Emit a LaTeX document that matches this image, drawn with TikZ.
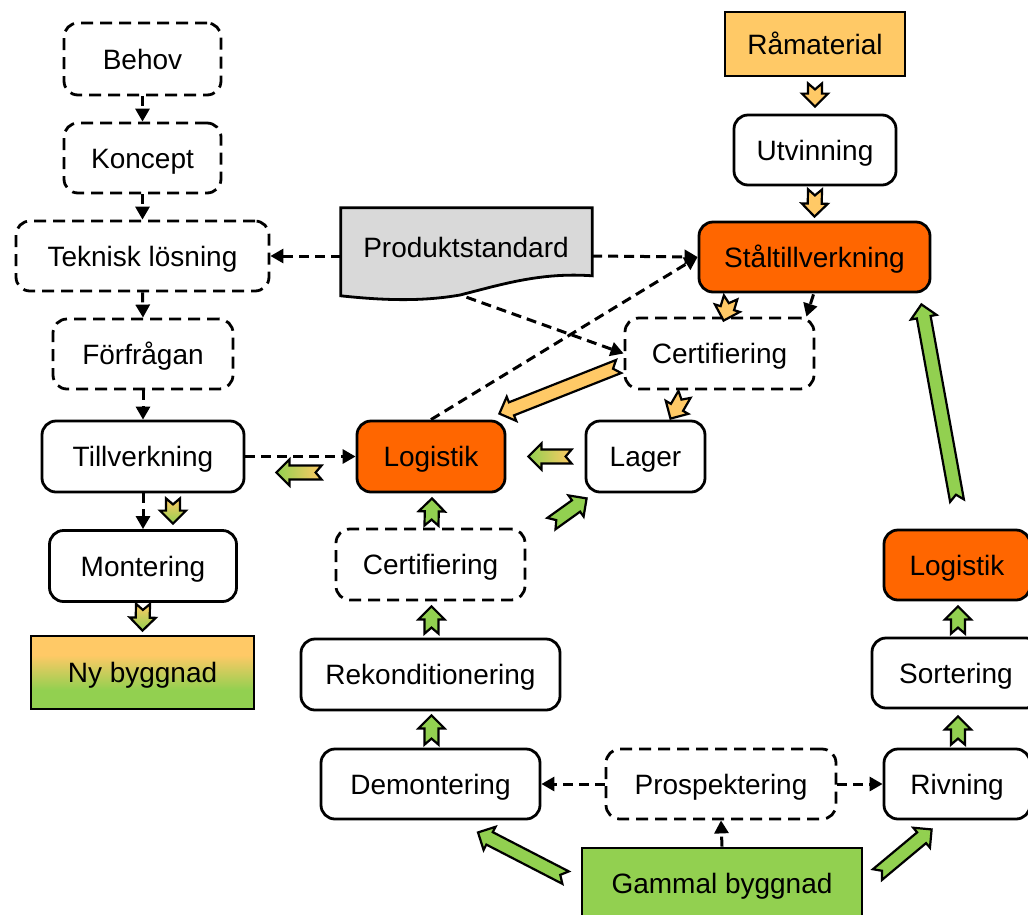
\documentclass[tikz,border=0pt]{standalone}
\usepackage{fontspec}
\setmainfont{Liberation Sans}
\usetikzlibrary{calc,arrows.meta}
\definecolor{orng}{HTML}{FF6600}
\definecolor{lorng}{HTML}{FFC966}
\definecolor{grn}{HTML}{92D050}
\definecolor{gry}{HTML}{D9D9D9}
\pgfdeclareverticalshading{nyshade}{100bp}{color(0bp)=(grn); color(38bp)=(grn); color(62bp)=(lorng); color(100bp)=(lorng)}
\tikzset{
  box/.style={draw=black, line width=2.8pt, rounded corners=14pt, fill=white,
    font=\fontsize{28}{33}\selectfont, text height=20pt, text depth=0pt, inner sep=0pt},
  dbox/.style={box, dash pattern=on 12pt off 7pt},
  sbox/.style={box, rounded corners=0pt},
  sz/.style 2 args={minimum width=#1pt, minimum height=#2pt},
  conn/.style={line width=3pt, dash pattern=on 10pt off 6pt, -{Triangle[length=13pt,width=14pt]}},
  fat/.style={draw=black, line width=2.2pt, line join=miter, fill=lorng},
  fatg/.style={fat, fill=grn},
  fath/.style={draw=black, line width=2.2pt, line join=miter, left color=grn, right color=lorng},
  fatv/.style={draw=black, line width=2.2pt, line join=miter, top color=lorng, bottom color=grn},
}
\newcommand\fatarrow[3][]{%
  \coordinate (faS) at (#2);
  \coordinate (faE) at (#3);
  \coordinate (faH) at ($(faE)!13pt!(faS)$);
  \coordinate (faN) at ($(faS)!6pt!(faE)$);
  \draw[fat,#1] ($(faS)!7pt!90:(faE)$) -- (faN) -- ($(faS)!7pt!-90:(faE)$)
     -- ($(faH)!7pt!-90:(faE)$) -- ($(faH)!13pt!-90:(faE)$) -- (faE)
     -- ($(faH)!13pt!90:(faE)$) -- ($(faH)!7pt!90:(faE)$) -- cycle;
}
\begin{document}
\begin{tikzpicture}[x=1pt,y=-1pt]
\useasboundingbox (0,0) rectangle (1028,914);
% left column
\node[dbox, sz={157}{72}] (behov) at (142.5,59) {Behov};
\node[dbox, sz={157}{70}] (koncept) at (142.5,158) {Koncept};
\node[dbox, sz={253}{70}] (teknisk) at (142.5,256) {Teknisk lösning};
\node[dbox, sz={180}{70}] (forf) at (143,354) {Förfrågan};
\node[box, sz={202}{71}] (tillv) at (143,456.5) {Tillverkning};
\node[box, sz={187}{71}] (mont) at (143,566) {Montering};
\node[sbox, sz={223}{73}, shading=nyshade] (ny) at (142.5,672.5) {Ny byggnad};
% document
\node[sz={251}{96}, inner sep=0pt] (prod) at (466.5,256) {};
\draw[line width=2.8pt, fill=gry, line join=miter] (prod.north west) -- (prod.north east)
  -- ($(prod.north east)+(0,68)$) .. controls (540,272) and (500,285) .. (460,295)
  .. controls (420,302) and (380,300) .. ($(prod.north west)+(0,88)$) -- cycle;
\node[font=\fontsize{28}{33}\selectfont, text height=20pt, text depth=0pt, inner sep=0pt] (prodtxt) at (466,247) {Produktstandard};
\coordinate (prodbot) at ($(prod.south)+(0,-7)$);
% middle
\node[box, sz={148}{71}, fill=orng] (log1) at (431,456.5) {Logistik};
\node[box, sz={119}{71}] (lager) at (645.5,456.5) {Lager};
\node[dbox, sz={189}{71}] (cert1) at (430.5,564.5) {Certifiering};
\node[box, sz={259}{71}] (rekon) at (430.5,674.5) {Rekonditionering};
\node[box, sz={219}{70}] (demont) at (430.5,784) {Demontering};
\node[dbox, sz={230}{70}] (prosp) at (721,784) {Prospektering};
\node[sbox, sz={280}{70}, fill=grn] (gammal) at (722,883) {Gammal byggnad};
% right
\node[sbox, sz={180}{64}, fill=lorng] (ramat) at (815,44) {Råmaterial};
\node[box, sz={162}{70}] (utv) at (815,150) {Utvinning};
\node[box, sz={231}{70}, fill=orng] (stal) at (814.5,257) {Ståltillverkning};
\node[dbox, sz={189}{71}] (cert2) at (719.5,353.5) {Certifiering};
\node[box, sz={146}{70}, fill=orng] (log2) at (957,565) {Logistik};
\node[box, sz={168}{70}] (sort) at (956,673) {Sortering};
\node[box, sz={146}{70}] (rivn) at (957,784) {Rivning};
% dashed connectors
\draw[conn] (behov.south) -- (koncept.north);
\draw[conn] (koncept.south) -- (teknisk.north);
\draw[conn] (teknisk.south) -- (forf.north);
\draw[conn] (forf.south) -- (tillv.north);
\draw[conn] (tillv.south) -- (mont.north);
\draw[conn] (prod.west) -- (teknisk.east);
\draw[conn] (prod.east) -- (stal.west);
\draw[conn] (prodbot) -- (cert2.west);
\draw[conn] (log1.north) -- (stal.west);
\draw[conn] ($(stal.south)+(-1,1)$) -- ($(cert2.north east)+(-9,0)$);
\draw[conn] (tillv.east) -- (log1.west);
\draw[conn] (prosp.west) -- (demont.east);
\draw[conn] (prosp.east) -- (rivn.west);
\draw[conn] (gammal.north) -- (prosp.south);
% fat arrows
\fatarrow{$(ramat.south)+(0,6)$}{$(utv.north)+(0,-7)$}
\fatarrow{$(utv.south)+(0,3)$}{$(stal.north)+(0,-4)$}
\fatarrow{$(stal.south west)+(33,4)$}{$(cert2.north west)+(100,4)$}
\fatarrow{$(cert2.south)+(-35,4)$}{$(lager.north)+(25,-1)$}
\fatarrow{$(cert2.west)+(-5,13)$}{$(log1.north east)+(-7,-6)$}
\fatarrow[fath]{$(lager.west)+(-13,0)$}{$(log1.east)+(22,0)$}
\fatarrow[fath]{$(log1.west)+(-34,16)$}{$(tillv.east)+(31,16)$}
\fatarrow[fatv]{$(tillv.south)+(30,5)$}{$(mont.north)+(30,-5.5)$}
\fatarrow[fatv]{$(mont.south)+(0,1)$}{$(ny.north)+(0,-4)$}
\fatarrow[fatg]{$(cert1.north)+(1,-2)$}{$(log1.south)+(1,5)$}
\fatarrow[fatg]{$(rekon.north)+(1,-4)$}{$(cert1.south)+(1,5)$}
\fatarrow[fatg]{$(demont.north)+(1,-3)$}{$(rekon.south)+(1,4)$}
\fatarrow[fatg]{$(gammal.north west)+(-15,31)$}{$(demont.south)+(47.5,12)$}
\fatarrow[fatg]{$(gammal.north east)+(14,28)$}{$(rivn.south west)+(49,9)$}
\fatarrow[fatg]{$(rivn.north)+(1,-3)$}{$(sort.south)+(2,7)$}
\fatarrow[fatg]{$(sort.north)+(2,-3)$}{$(log2.south)+(1,5)$}
\fatarrow[fatg]{$(log2.north)+(0,-28)$}{$(stal.south east)+(-10,11)$}
\fatarrow[fatg]{$(cert1.north east)+(25,-4)$}{$(lager.south west)+(2,5)$}
\end{tikzpicture}
\end{document}
